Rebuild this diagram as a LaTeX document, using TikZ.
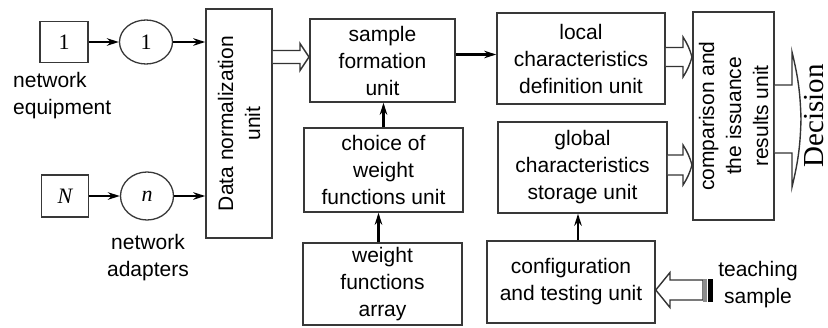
\documentclass[tikz,border=0pt]{standalone}
\usepackage{fontspec}
\setmainfont{Liberation Sans}
\newfontfamily\serifface{Liberation Serif}
\usetikzlibrary{arrows.meta,shapes.geometric}
\begin{document}
\begin{tikzpicture}[x=1pt,y=-1pt,
  box/.style={draw=black!78, line width=1.5pt, align=center, inner sep=0pt,
    font=\fontsize{21}{27}\selectfont, fill=white},
  smallbox/.style={draw=black!78, line width=1.5pt, inner sep=0pt,
    font=\serifface\fontsize{22}{26}\selectfont},
  roundbox/.style={ellipse, draw=black!78, line width=1.3pt, inner sep=0pt,
    font=\serifface\fontsize{22}{26}\selectfont},
  arr/.style={draw=black, line width=2.3pt, -{Stealth[length=12pt,width=7.5pt]}},
  hollow/.style={draw=black!80, line width=1.4pt, fill=white, line join=miter},
  lbl/.style={font=\fontsize{21}{27}\selectfont, inner sep=0pt}
]
\useasboundingbox (0,0) rectangle (828,327);

% source boxes and circles
\node[smallbox, minimum width=48pt, minimum height=41pt] (eq1) at (64,42) {1};
\node[roundbox, minimum width=53pt, minimum height=44pt] (c1) at (146,42) {1};
\node[smallbox, minimum width=47pt, minimum height=42pt] (eqN) at (65,196) {\itshape N};
\node[roundbox, minimum width=53pt, minimum height=48pt] (cn) at (147,196) {\itshape n};

% main units
\node[box, rotate=90, minimum width=229pt, minimum height=66pt] (norm) at (239,123.5)
  {Data normalization\\unit};
\node[box, minimum width=145pt, minimum height=83pt] (sample) at (382.5,60.5)
  {sample\\formation\\unit};
\node[box, minimum width=168pt, minimum height=91pt] (local) at (581,58.5)
  {local\\characteristics\\definition unit};
\node[box, minimum width=159pt, minimum height=84pt] (choice) at (383.5,170)
  {choice of\\weight\\functions unit};
\node[box, minimum width=159pt, minimum height=82pt] (array) at (382.5,284)
  {weight\\functions\\array};
\node[box, minimum width=169pt, minimum height=91pt] (global) at (582.5,167.5)
  {global\\characteristics\\storage unit};
\node[box, minimum width=168pt, minimum height=82pt] (config) at (571,282)
  {configuration\\and testing unit};
\node[box, rotate=90, minimum width=208pt, minimum height=81pt] (comp) at (733.5,116)
  {comparison and\\the issuance\\results unit};

% labels
\node[lbl, anchor=west, align=left] (neteq) at (13,96) {network\\equipment};
\node[lbl, align=center] (netad) at (148,258) {network\\adapters};
\node[lbl, align=center] (teach) at (758,285) {teaching\\sample};
\node[rotate=90, anchor=base, inner sep=0pt, font=\serifface\fontsize{29}{33}\selectfont] (dec) at (823,116) {Decision};

% thin arrows
\draw[arr] (eq1.east) -- (c1.west);
\draw[arr] (c1.east) -- (c1.east -| norm.north);
\draw[arr] (eqN.east) -- (cn.west);
\draw[arr] (cn.east) -- (cn.east -| norm.north);
\draw[arr] ([yshift=6pt]sample.east) -- ([yshift=6pt]sample.east -| local.west);
\draw[arr] (choice.north) -- (choice.north |- sample.south);
\draw[arr] ([xshift=-4pt]array.north) -- ([xshift=-4pt]array.north |- choice.south);
\draw[arr] ([xshift=7pt]config.north) -- ([xshift=7pt]config.north |- global.south);

% hollow arrows
\draw[hollow] (norm.south |- 0,50.5) -- (300,50.5) -- (300,43.5) -- (309,57)
  -- (300,70.5) -- (300,63.5) -- (norm.south |- 0,63.5);
\draw[hollow] (local.east |- 0,47.5) -- (683,47.5) -- (683,37) to[bend left=8] (692,57)
  to[bend left=8] (683,77) -- (683,66.5) -- (local.east |- 0,66.5);
\draw[hollow] (global.east |- 0,155) -- (683,155) -- (683,145) to[bend left=8] (692,165)
  to[bend left=8] (683,185) -- (683,175) -- (global.east |- 0,175);
\draw[hollow] (comp.south |- 0,85) -- (792,85) -- (792,52) to[bend left=6] (801,119)
  to[bend left=6] (792,187) -- (792,153) -- (comp.south |- 0,153);
\draw[hollow] (703,280) -- (670,280) -- (670,272.5) -- (config.east |- 0,290)
  -- (670,307.5) -- (670,300) -- (703,300) -- cycle;
\fill[black!45] (703,279) rectangle (707,302);
\fill[black] (708,279) rectangle (713,302);
\end{tikzpicture}
\end{document}
